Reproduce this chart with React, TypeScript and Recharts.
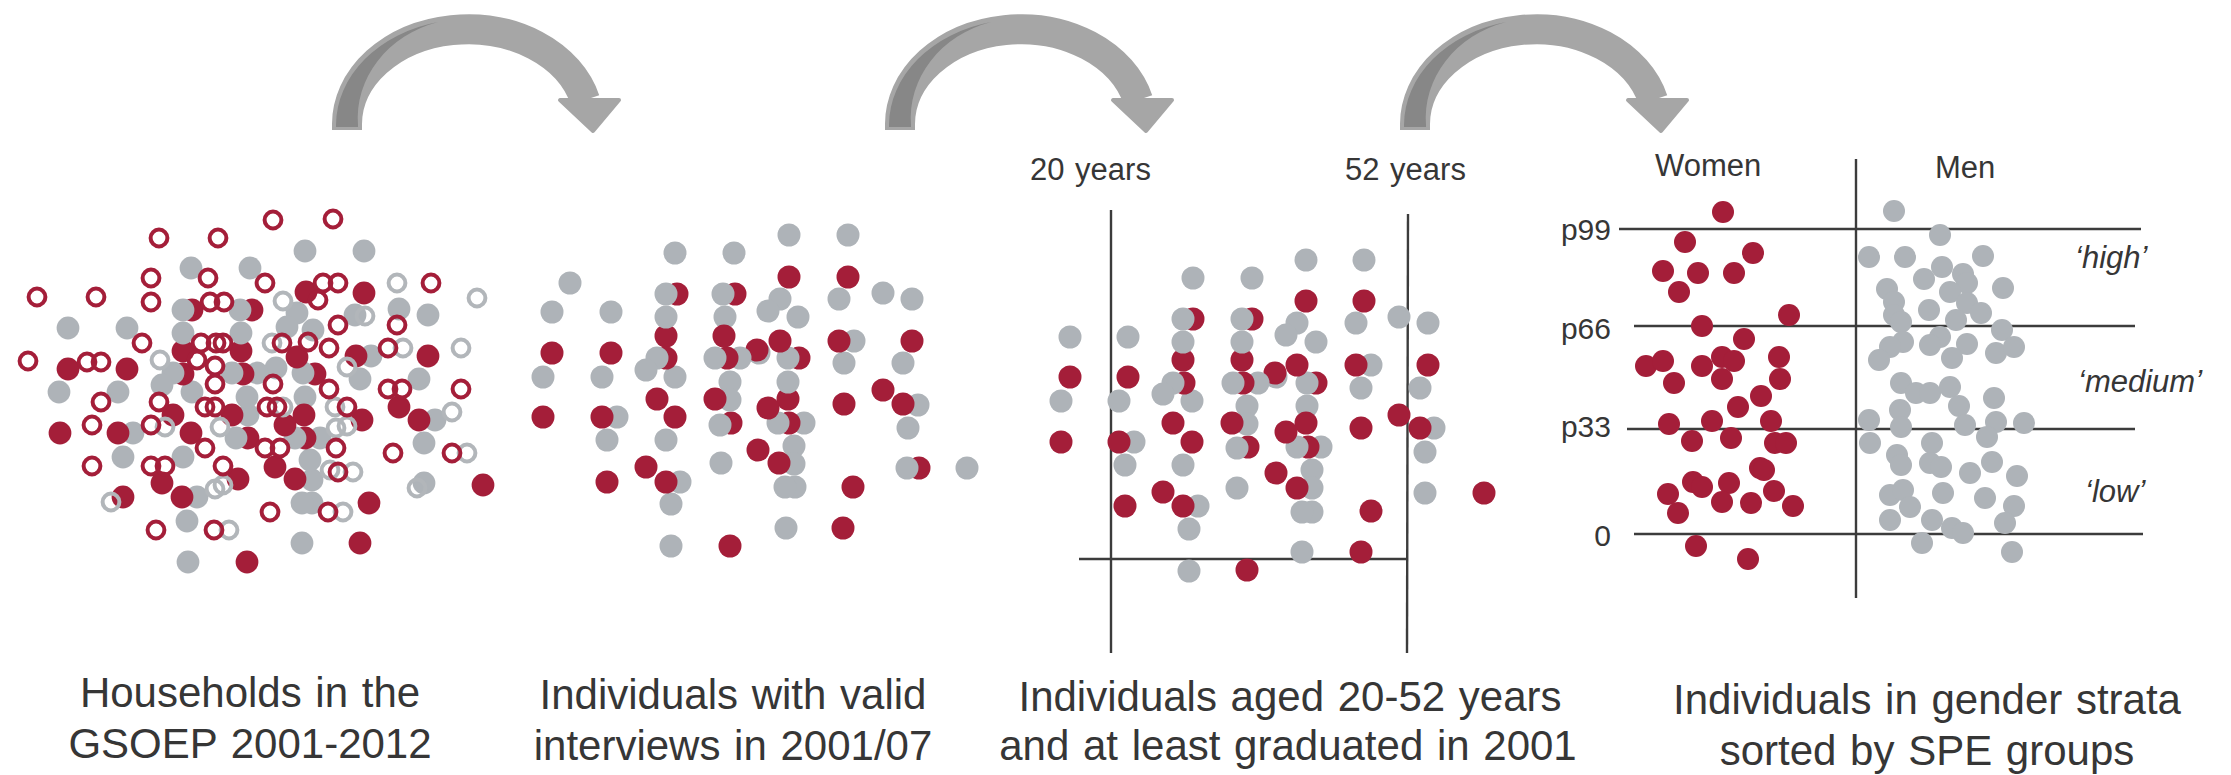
import React from "react";
import { ScatterChart, Scatter, XAxis, YAxis, ReferenceLine } from "recharts";

if (typeof document !== "undefined") {
  document.body.style.margin = "0";
}

const RED = "#A41E39";
const GREY = "#AEB3B8";
const LINE = "#3C3C3C";
const TEXT = "#363636";
const FONT = "'Liberation Sans', Arial, sans-serif";

// Panel 1: households (open rings and filled dots)
const hhRedRing = [
  [273, 220], [333, 219], [159, 238], [218, 238], [151, 278], [208, 278], [265, 283], [323, 283], [338, 283],
  [431, 283], [37, 297], [96, 297], [151, 302], [210, 302], [224, 302], [318, 300], [338, 325], [397, 325],
  [142, 343], [201, 343], [216, 343], [223, 343], [282, 343], [308, 342], [329, 348], [388, 348], [28, 361],
  [87, 362], [101, 362], [197, 360], [215, 366], [215, 384], [273, 384], [329, 389], [388, 389], [402, 389],
  [461, 389], [101, 402], [159, 402], [205, 407], [215, 407], [267, 407], [277, 407], [347, 407], [92, 425],
  [151, 425], [205, 448], [265, 448], [280, 448], [336, 448], [393, 453], [452, 453], [92, 466], [151, 466],
  [165, 466], [223, 466], [338, 472], [328, 512], [270, 512], [156, 530], [214, 530],
];
const hhGreyRing = [
  [397, 283], [283, 301], [477, 298], [365, 316], [272, 343], [403, 348], [461, 348], [160, 360], [347, 367],
  [283, 407], [335, 407], [452, 412], [165, 427], [220, 427], [336, 428], [347, 426], [467, 453], [330, 470],
  [353, 472], [215, 489], [223, 485], [417, 488], [111, 502], [343, 512], [229, 530],
];
const hhRedDot = [
  [306, 292], [364, 293], [192, 310], [252, 310], [183, 351], [241, 351], [297, 357], [356, 356], [428, 356],
  [68, 369], [127, 369], [183, 374], [243, 374], [315, 374], [173, 415], [232, 415], [304, 415], [285, 425],
  [362, 420], [399, 407], [419, 420], [60, 433], [118, 433], [191, 433], [248, 438], [305, 438], [275, 467],
  [162, 483], [238, 479], [295, 479], [483, 485], [123, 497], [182, 497], [369, 503], [360, 543], [247, 562],
];
const hhGreyDot = [
  [305, 251], [364, 251], [191, 268], [250, 268], [183, 310], [240, 310], [297, 313], [355, 315], [399, 309],
  [428, 315], [68, 328], [127, 328], [183, 333], [241, 333], [287, 327], [313, 330], [371, 356], [173, 373],
  [232, 373], [257, 373], [276, 368], [303, 373], [360, 379], [59, 392], [118, 392], [162, 385], [192, 392],
  [419, 379], [247, 397], [305, 397], [435, 420], [133, 433], [248, 415], [236, 438], [295, 438], [320, 438],
  [123, 457], [183, 457], [310, 460], [424, 443], [312, 480], [424, 483], [197, 497], [302, 503], [312, 503],
  [187, 521], [302, 543], [188, 562],
];

// Panel 2: individuals with valid interviews
const validGrey = [
  [789, 235], [848, 235], [675, 253], [734, 253], [570, 283], [552, 312], [611, 312], [666, 294], [723, 294],
  [780, 299], [768, 311], [798, 317], [839, 299], [883, 293], [912, 299], [666, 317], [725, 317], [854, 341],
  [657, 358], [646, 370], [675, 377], [715, 358], [740, 358], [759, 353], [788, 358], [844, 363], [903, 363],
  [543, 377], [602, 377], [730, 382], [788, 382], [730, 400], [617, 417], [720, 425], [778, 423], [804, 423],
  [918, 405], [607, 440], [666, 440], [908, 428], [794, 446], [794, 464], [721, 463], [907, 468], [967, 468],
  [680, 482], [785, 487], [795, 487], [671, 504], [786, 528], [671, 546],
];
const validRed = [
  [789, 277], [848, 277], [677, 294], [735, 294], [552, 353], [611, 353], [666, 336], [724, 336], [780, 341],
  [839, 341], [912, 341], [666, 358], [727, 358], [757, 350], [799, 358], [543, 417], [602, 417], [657, 399],
  [675, 417], [715, 399], [788, 399], [768, 408], [731, 423], [789, 423], [844, 404], [883, 390], [903, 404],
  [758, 450], [779, 463], [646, 467], [607, 482], [666, 482], [919, 468], [853, 487], [843, 528], [730, 546],
];

// Panel 3: individuals aged 20-52
const agedGrey = [
  [1306, 260], [1364, 260], [1193, 278], [1252, 278], [1070, 337], [1128, 337], [1061, 401], [1119, 401],
  [1183, 319], [1242, 319], [1297, 323], [1286, 335], [1316, 342], [1356, 323], [1399, 317], [1428, 323],
  [1183, 342], [1242, 342], [1371, 365], [1173, 383], [1163, 394], [1192, 401], [1233, 383], [1258, 383],
  [1276, 377], [1307, 383], [1361, 388], [1420, 388], [1247, 406], [1307, 406], [1247, 424], [1134, 442],
  [1237, 448], [1297, 447], [1321, 447], [1434, 428], [1125, 465], [1183, 465], [1425, 452], [1312, 470],
  [1312, 488], [1237, 488], [1425, 493], [1198, 506], [1302, 512], [1312, 512], [1189, 529], [1302, 552],
  [1189, 571],
];
const agedRed = [
  [1306, 301], [1364, 301], [1193, 319], [1252, 319], [1070, 377], [1128, 377], [1183, 360], [1242, 360],
  [1297, 365], [1356, 365], [1428, 365], [1184, 383], [1243, 383], [1275, 373], [1316, 383], [1061, 442],
  [1119, 442], [1173, 423], [1192, 442], [1232, 423], [1306, 423], [1286, 432], [1248, 447], [1308, 447],
  [1361, 428], [1399, 415], [1420, 428], [1276, 473], [1297, 488], [1163, 492], [1125, 506], [1183, 506],
  [1484, 493], [1371, 511], [1361, 552], [1247, 570],
];

// Panel 4: gender strata
const women = [
  [1723, 212], [1685, 242], [1753, 253], [1663, 271], [1698, 273], [1734, 273], [1679, 292], [1789, 315],
  [1702, 326], [1744, 339], [1646, 366], [1663, 361], [1702, 366], [1722, 357], [1734, 361], [1779, 357],
  [1674, 383], [1722, 379], [1780, 379], [1761, 396], [1738, 407], [1669, 424], [1712, 421], [1771, 421],
  [1692, 441], [1731, 438], [1775, 443], [1786, 443], [1760, 468], [1764, 470], [1693, 482], [1702, 487],
  [1729, 483], [1668, 494], [1774, 491], [1722, 502], [1751, 503], [1793, 506], [1678, 513], [1696, 546],
  [1748, 559],
];
const men = [
  [1894, 211], [1940, 235], [1869, 257], [1905, 257], [1983, 256], [1942, 267], [1924, 279], [1963, 274],
  [1967, 283], [2003, 288], [1887, 289], [1894, 302], [1950, 292], [1929, 310], [1967, 303], [1981, 313],
  [1894, 315], [1901, 322], [1956, 320], [2002, 330], [1940, 337], [1903, 342], [1890, 347], [1930, 345],
  [1967, 344], [1996, 353], [2014, 347], [1879, 360], [1952, 358], [1901, 383], [1916, 393], [1930, 393],
  [1950, 387], [1959, 406], [1994, 398], [1900, 410], [1869, 420], [1901, 427], [1965, 425], [1996, 422],
  [2024, 423], [1987, 437], [1870, 443], [1932, 443], [1897, 455], [1901, 465], [1930, 463], [1941, 467],
  [1992, 462], [1970, 473], [2017, 476], [1890, 495], [1903, 490], [1910, 507], [1943, 493], [1985, 498],
  [2014, 506], [1890, 520], [1932, 520], [1952, 528], [1963, 533], [2005, 523], [1922, 543], [2012, 552],
];

// Arrows (anchor = foot of left leg)
const arrowAnchors = [
  [347, 130],
  [900, 130],
  [1415, 130],
];

// Reference segments
const ageLines = [
  [[1111, 210], [1111, 653]],
  [[1408, 214], [1407, 653]],
  [[1079, 559], [1408, 559]],
];
const strataLines = [
  [[1619, 229], [2141, 229]],
  [[1634, 326], [2135, 326]],
  [[1627, 429], [2135, 429]],
  [[1634, 534], [2143, 534]],
  [[1856, 159], [1856, 598]],
];

// Texts
const captions = [
  { x: 250, y: 707, t: "Households in the" },
  { x: 250, y: 758, t: "GSOEP 2001-2012" },
  { x: 733, y: 709, t: "Individuals with valid" },
  { x: 733, y: 760, t: "interviews in 2001/07" },
  { x: 1290, y: 711, t: "Individuals aged 20-52 years" },
  { x: 1288, y: 760, t: "and at least graduated in 2001" },
  { x: 1927, y: 714, t: "Individuals in gender strata" },
  { x: 1927, y: 765, t: "sorted by SPE groups" },
];
const headers = [
  { x: 1030, y: 180, t: "20 years" },
  { x: 1345, y: 180, t: "52 years" },
  { x: 1655, y: 176, t: "Women" },
  { x: 1935, y: 178, t: "Men" },
];
const percentileTicks = [
  { x: 1611, y: 240, t: "p99" },
  { x: 1611, y: 339, t: "p66" },
  { x: 1611, y: 437, t: "p33" },
  { x: 1611, y: 546, t: "0" },
];
const strataNames = [
  { x: 2075, y: 268, t: "\u2018high\u2019" },
  { x: 2078, y: 392, t: "\u2018medium\u2019" },
  { x: 2085, y: 502, t: "\u2018low\u2019" },
];

const pts = (a: number[][]) => a.map(([x, y]) => ({ x, y }));
const mixed = (red: number[][], grey: number[][]) =>
  [...red.map(([x, y]) => ({ x, y, c: RED })), ...grey.map(([x, y]) => ({ x, y, c: GREY }))].sort(
    (a, b) => b.x - a.x
  );

const dot = (fill: string, r: number) => (p: any) => <circle cx={p.cx} cy={p.cy} r={r} fill={fill} />;
const mixedDot = (r: number) => (p: any) => {
  const c = (p.payload && p.payload.c) || p.c;
  return <circle cx={p.cx} cy={p.cy} r={r} fill={c} />;
};
const ring = (stroke: string) => (p: any) => (
  <circle cx={p.cx} cy={p.cy} r={8.4} fill="none" stroke={stroke} strokeWidth={4} />
);
const textShape = (size: number, anchor: string, italic = false) => (p: any) => {
  const t = (p.payload && p.payload.t) || p.t;
  return (
    <text
      x={p.cx}
      y={p.cy}
      textAnchor={anchor}
      fontSize={size}
      fontStyle={italic ? "italic" : "normal"}
      fontFamily={FONT}
      fill={TEXT}
      wordSpacing={2}
    >
      {t}
    </text>
  );
};
const arrowShape = (p: any) => (
  <g transform={`translate(${p.cx},${p.cy})`}>
    <path d="M 0 0 L 0 -5 A 121 95 0 0 1 238 -30" fill="none" stroke="#A6A6A6" strokeWidth={30} />
    <path d="M -11 -3 L -11 -5 A 132 106 0 0 1 91 -108 A 112 100 0 0 0 11 -5 L 11 -3 Z" fill="#878787" />
    <path
      d="M 213 -30 L 272 -30 L 246 1 Z"
      fill="#A6A6A6"
      stroke="#A6A6A6"
      strokeWidth={4}
      strokeLinejoin="round"
    />
  </g>
);

export default function App() {
  return (
    <div style={{ width: 2231, height: 775, background: "#fff" }}>
      <ScatterChart width={2231} height={775} margin={{ top: 0, right: 0, bottom: 0, left: 0 }}>
        <XAxis type="number" dataKey="x" domain={[0, 2231]} allowDataOverflow hide height={0} />
        <YAxis type="number" dataKey="y" domain={[0, 775]} allowDataOverflow reversed hide width={0} />

        <Scatter data={pts(arrowAnchors)} shape={arrowShape} isAnimationActive={false} />

        <Scatter data={mixed(hhRedDot, hhGreyDot)} shape={mixedDot(11.4)} isAnimationActive={false} />
        <Scatter data={pts(hhGreyRing)} shape={ring("#B2B6BA")} isAnimationActive={false} />
        <Scatter data={pts(hhRedRing)} shape={ring(RED)} isAnimationActive={false} />

        <Scatter data={mixed(validRed, validGrey)} shape={mixedDot(11.5)} isAnimationActive={false} />
        <Scatter data={mixed(agedRed, agedGrey)} shape={mixedDot(11.5)} isAnimationActive={false} />

        <Scatter data={pts(women)} shape={dot(RED, 11)} isAnimationActive={false} />
        <Scatter data={pts(men)} shape={dot(GREY, 11)} isAnimationActive={false} />

        {[...ageLines, ...strataLines].map((s, i) => (
          <ReferenceLine
            key={i}
            segment={[
              { x: s[0][0], y: s[0][1] },
              { x: s[1][0], y: s[1][1] },
            ]}
            stroke={LINE}
            strokeWidth={2.4}
            ifOverflow="visible"
          />
        ))}

        <Scatter data={captions} shape={textShape(42, "middle")} isAnimationActive={false} />
        <Scatter data={headers} shape={textShape(31, "start")} isAnimationActive={false} />
        <Scatter data={percentileTicks} shape={textShape(30, "end")} isAnimationActive={false} />
        <Scatter data={strataNames} shape={textShape(31, "start", true)} isAnimationActive={false} />
      </ScatterChart>
    </div>
  );
}
